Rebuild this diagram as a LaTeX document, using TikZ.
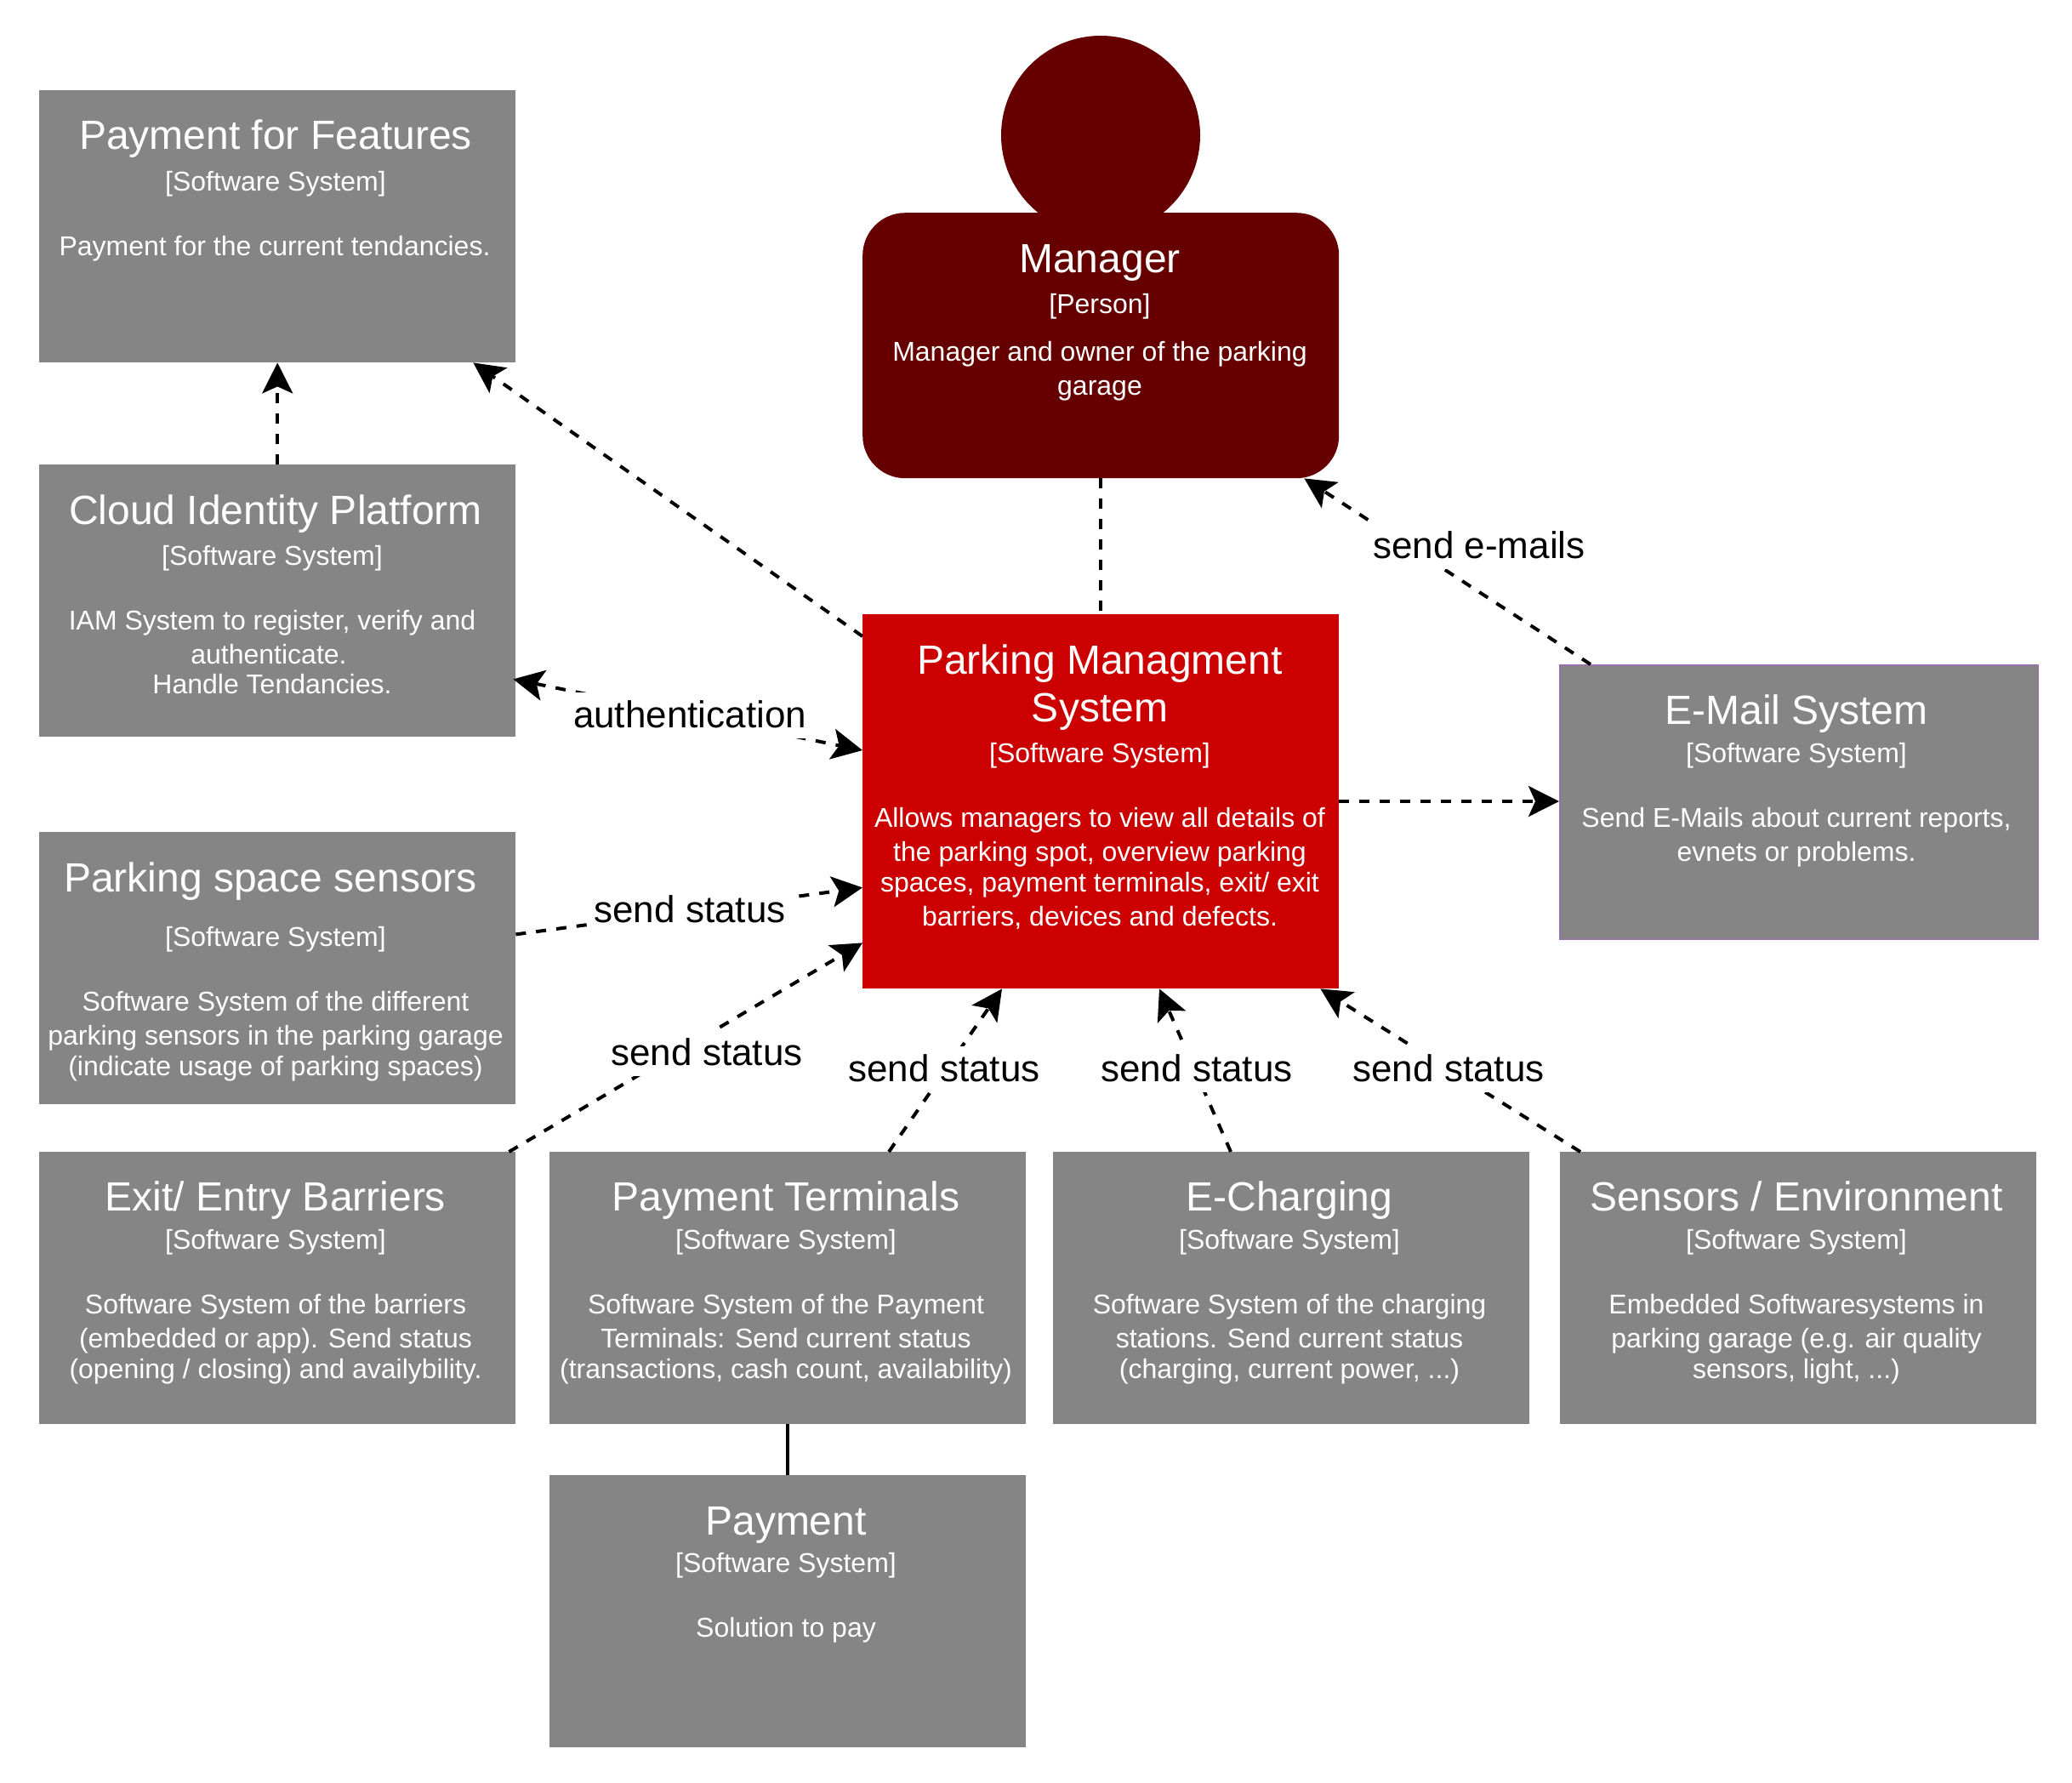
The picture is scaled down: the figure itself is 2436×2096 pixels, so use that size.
\documentclass[tikz,border=0pt]{standalone}
\usepackage{fontspec}
\setmainfont{Liberation Sans}
\usetikzlibrary{arrows.meta}
\definecolor{boxgrey}{HTML}{858585}
\definecolor{sysred}{HTML}{CC0000}
\definecolor{persondark}{HTML}{660000}
\definecolor{mailborder}{HTML}{9673A6}
\tikzset{
  c4box/.style={rectangle,inner sep=0pt,anchor=north west,draw=none,fill=boxgrey,minimum width=560pt,minimum height=320pt},
  c4line/.style={anchor=base,inner sep=0pt,text=white,align=center},
  rel/.style={line width=4pt,dash pattern=on 12pt off 12pt,-{Stealth[length=36pt,width=36pt,inset=8pt]}},
  relplain/.style={line width=4pt,dash pattern=on 12pt off 12pt},
  lbl/.style={anchor=base,fill=white,inner xsep=4pt,inner ysep=0pt,text height=41pt,text depth=13pt,text=black,font=\fontsize{44}{50}\selectfont},
}
\newcount\txtlinecnt
\newcommand{\txtline}[4]{\global\advance\txtlinecnt by 1
  \node[c4line,font=\fontsize{#3}{#3}\selectfont] (t\the\txtlinecnt) at (#1,#2) {#4};}
\begin{document}
\begin{tikzpicture}[x=1pt,y=-1pt]
\useasboundingbox (0,0) rectangle (2436,2096);
% boxes
\node[c4box] (features) at (46,106) {};
\node[c4box] (cloud) at (46,546) {};
\node[c4box] (sensors) at (46,978) {};
\node[c4box] (barriers) at (46,1354) {};
\node[c4box] (terminals) at (646,1354) {};
\node[c4box] (payment) at (646,1734) {};
\node[c4box] (charging) at (1238,1354) {};
\node[c4box] (environment) at (1834,1354) {};
\node[c4box,draw=mailborder,line width=2pt,minimum width=562pt,minimum height=322pt] (mail) at (1833,781) {};
\node[c4box,fill=sysred,minimum height=440pt] (pms) at (1014,722) {};
\node[circle,fill=persondark,inner sep=0pt,minimum size=234pt] (head) at (1294,159) {};
\node[c4box,fill=persondark,rounded corners=50pt,minimum height=312pt] (manager) at (1014,250) {};
% connectors
\draw[rel] (cloud.north) -- (features.south);
\draw[rel] ([yshift=-26pt]pms.north west) -- ([xshift=-50pt]features.south east);
\draw[relplain] (manager.south) -- (pms.north);
\draw[rel] ([xshift=37pt]mail.north west) -- ([xshift=-41pt]manager.south east);
\draw[rel] ([yshift=-220pt]pms.north east) -- ([yshift=-161pt]mail.north west);
\draw[rel,{Stealth[length=36pt,width=36pt,inset=8pt]}-{Stealth[length=36pt,width=36pt,inset=8pt]}] ([xshift=-3pt,yshift=68pt]cloud.south east) -- ([yshift=-160pt]pms.north west);
\draw[rel] ([yshift=200pt]sensors.south east) -- ([yshift=119pt]pms.south west);
\draw[rel] ([xshift=-8pt]barriers.north east) -- ([yshift=54pt]pms.south west);
\draw[rel] ([xshift=399pt]terminals.north west) -- ([xshift=164pt]pms.south west);
\draw[rel] ([xshift=209pt]charging.north west) -- ([xshift=349pt]pms.south west);
\draw[rel] ([xshift=24pt]environment.north west) -- ([xshift=-22pt]pms.south east);
\draw[line width=4pt] (terminals.south) -- (payment.north);
% connector labels
\node[lbl] (la) at (811,855) {authentication};
\node[lbl] (lb) at (811,1084) {send status};
\node[lbl] (lc) at (831,1252) {send status};
\node[lbl] (ld) at (1110,1271) {send status};
\node[lbl] (le) at (1407,1271) {send status};
\node[lbl] (lf) at (1703,1271) {send status};
\node[lbl] (lg) at (1739,656) {send e-mails};
% texts
\txtline{324}{175}{48}{Payment for Features}
\txtline{324}{224}{32}{[Software System]}
\txtline{323}{300}{32}{Payment for the current tendancies.}

\txtline{324}{616}{48}{Cloud Identity Platform}
\txtline{320}{664}{32}{[Software System]}
\txtline{320}{740}{32}{IAM System to register, verify and}
\txtline{316}{780}{32}{authenticate.}
\txtline{320}{815}{32}{Handle Tendancies.}

\txtline{318}{1048}{48}{Parking space sensors}
\txtline{324}{1112}{32}{[Software System]}
\txtline{324}{1188}{32}{Software System of the different}
\txtline{324}{1228}{32}{parking sensors in the parking garage}
\txtline{324}{1264}{32}{(indicate usage of parking spaces)}

\txtline{324}{1423}{48}{Exit/ Entry Barriers}
\txtline{324}{1468}{32}{[Software System]}
\txtline{324}{1544}{32}{Software System of the barriers}
\txtline{324}{1584}{32}{(embedded or app). Send status}
\txtline{324}{1620}{32}{(opening / closing) and availybility.}

\txtline{924}{1423}{48}{Payment Terminals}
\txtline{924}{1468}{32}{[Software System]}
\txtline{924}{1544}{32}{Software System of the Payment}
\txtline{924}{1584}{32}{Terminals: Send current status}
\txtline{924}{1620}{32}{(transactions, cash count, availability)}

\txtline{924}{1804}{48}{Payment}
\txtline{924}{1848}{32}{[Software System]}
\txtline{924}{1924}{32}{Solution to pay}

\txtline{1516}{1423}{48}{E-Charging}
\txtline{1516}{1468}{32}{[Software System]}
\txtline{1516}{1544}{32}{Software System of the charging}
\txtline{1516}{1584}{32}{stations. Send current status}
\txtline{1516}{1620}{32}{(charging, current power, ...)}

\txtline{2112}{1423}{48}{Sensors / Environment}
\txtline{2112}{1468}{32}{[Software System]}
\txtline{2112}{1544}{32}{Embedded Softwaresystems in}
\txtline{2112}{1584}{32}{parking garage (e.g. air quality}
\txtline{2112}{1620}{32}{sensors, light, ...)}

\txtline{2112}{851}{48}{E-Mail System}
\txtline{2112}{896}{32}{[Software System]}
\txtline{2112}{972}{32}{Send E-Mails about current reports,}
\txtline{2112}{1012}{32}{evnets or problems.}

\txtline{1293}{320}{48}{Manager}
\txtline{1293}{368}{32}{[Person]}
\txtline{1293}{424}{32}{Manager and owner of the parking}
\txtline{1293}{464}{32}{garage}

\txtline{1293}{792}{48}{Parking Managment}
\txtline{1293}{848}{48}{System}
\txtline{1293}{896}{32}{[Software System]}
\txtline{1293}{972}{32}{Allows managers to view all details of}
\txtline{1293}{1012}{32}{the parking spot, overview parking}
\txtline{1293}{1048}{32}{spaces, payment terminals, exit/ exit}
\txtline{1293}{1088}{32}{barriers, devices and defects.}
\end{tikzpicture}
\end{document}
